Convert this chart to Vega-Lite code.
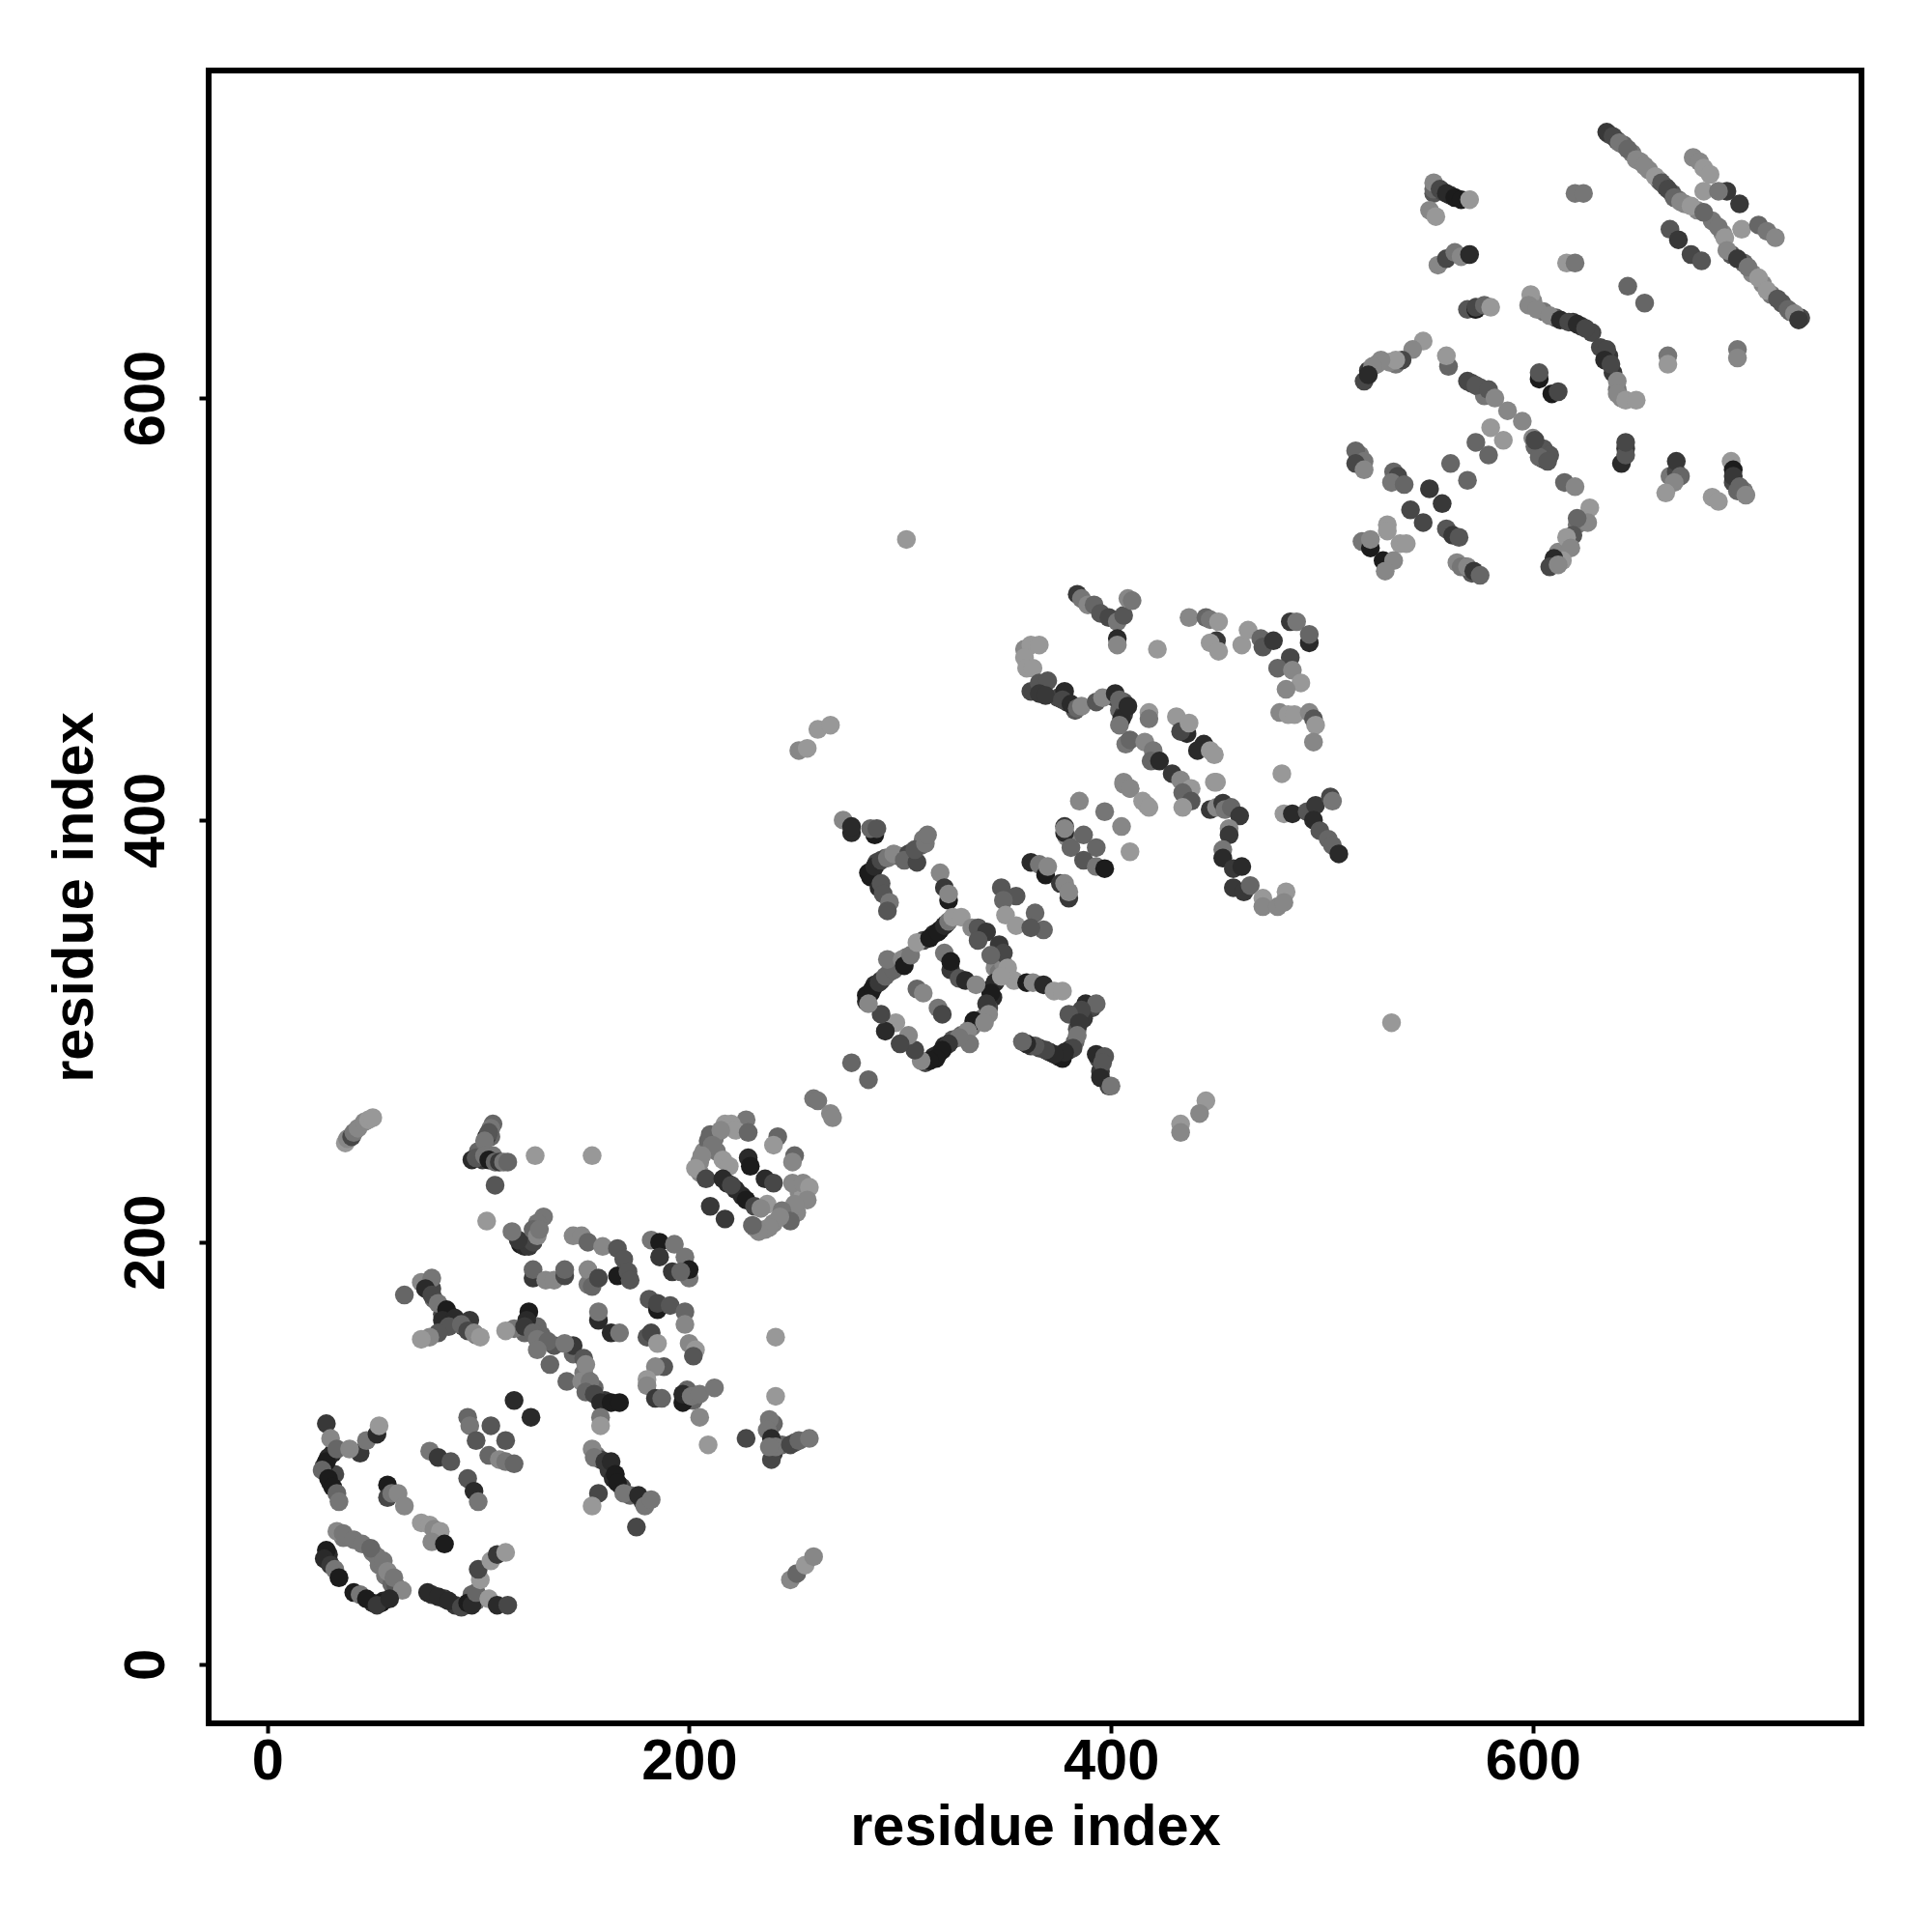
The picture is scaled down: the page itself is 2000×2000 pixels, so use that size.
{"$schema":"https://vega.github.io/schema/vega-lite/v6.json","autosize":{"type":"none"},"padding":{"left":216,"top":73,"right":73,"bottom":216},"width":1711,"height":1711,"background":"white",
"config":{"view":{"stroke":"black","strokeWidth":6,"fill":"white"}},
"data":{"values":[
{"x":636,"y":725,"s":4},{"x":640,"y":722,"s":3},{"x":643,"y":720,"s":5},{"x":647,"y":716,"s":6},{"x":651,"y":712,"s":7},{"x":655,"y":708,"s":7},{"x":660,"y":703,"s":5},{"x":663,"y":700,"s":3},{"x":666,"y":697,"s":4},{"x":669,"y":694,"s":6},{"x":672,"y":692,"s":7},{"x":678,"y":689,"s":7},{"x":685,"y":684,"s":6},{"x":690,"y":678,"s":7},{"x":694,"y":668,"s":4},{"x":700,"y":664,"s":5},{"x":704,"y":659,"s":7},{"x":709,"y":654,"s":7},{"x":713,"y":649,"s":6},{"x":718,"y":645,"s":4},{"x":722,"y":641,"s":5},{"x":727,"y":638,"s":3},
{"x":286,"y":318,"s":0},{"x":288,"y":322,"s":1},{"x":291,"y":324,"s":3},{"x":295,"y":328,"s":5},{"x":299,"y":332,"s":6},{"x":303,"y":335,"s":6},{"x":311,"y":343,"s":3},{"x":316,"y":346,"s":1},{"x":319,"y":348,"s":1},{"x":322,"y":351,"s":3},{"x":343,"y":320,"s":1},{"x":344,"y":316,"s":1},{"x":342,"y":311,"s":3},{"x":339,"y":306,"s":6},{"x":334,"y":302,"s":6},{"x":329,"y":298,"s":5},{"x":325,"y":296,"s":4},{"x":321,"y":293,"s":1},{"x":318,"y":289,"s":0},{"x":316,"y":288,"s":1},{"x":312,"y":285,"s":3},
{"x":391,"y":311,"s":3},{"x":387,"y":306,"s":2},{"x":384,"y":301,"s":4},{"x":383,"y":295,"s":5},{"x":380,"y":291,"s":1},{"x":375,"y":288,"s":1},{"x":371,"y":290,"s":2},{"x":366,"y":292,"s":3},{"x":362,"y":293,"s":2},
{"x":286,"y":373,"s":0},{"x":287,"y":376,"s":1},{"x":289,"y":380,"s":3},{"x":293,"y":382,"s":5},{"x":299,"y":383,"s":5},{"x":306,"y":385,"s":4},{"x":310,"y":388,"s":5},{"x":311,"y":391,"s":6},
{"x":29,"y":52,"s":1},{"x":29,"y":49,"s":1},{"x":36,"y":60,"s":6},{"x":50,"y":53,"s":6},{"x":52,"y":51,"s":6},{"x":53,"y":47,"s":6},{"x":56,"y":42,"s":6},{"x":59,"y":38,"s":5},{"x":61,"y":37,"s":4},{"x":55,"y":30,"s":1},{"x":50,"y":29,"s":1},{"x":78,"y":33,"s":2},{"x":84,"y":31,"s":2},{"x":89,"y":28,"s":2},{"x":94,"y":28,"s":5},{"x":99,"y":30,"s":5},{"x":97,"y":33,"s":5},{"x":27,"y":94,"s":2},{"x":29,"y":98,"s":1},{"x":28,"y":92,"s":2},{"x":30,"y":86,"s":1},{"x":32,"y":90,"s":3},
{"x":205,"y":238,"s":7},{"x":207,"y":243,"s":7},{"x":209,"y":248,"s":5},{"x":205,"y":233,"s":7},{"x":212,"y":249,"s":6},{"x":213,"y":243,"s":6},{"x":217,"y":256,"s":8},{"x":224,"y":255,"s":7},{"x":252,"y":224,"s":7},{"x":254,"y":222,"s":8},{"x":251,"y":214,"s":7},{"x":246,"y":213,"s":6},{"x":240,"y":209,"s":7},{"x":236,"y":206,"s":7},{"x":231,"y":207,"s":6},{"x":225,"y":222,"s":1},{"x":222,"y":225,"s":1},{"x":218,"y":228,"s":1},
{"x":362,"y":461,"s":3},{"x":375,"y":458,"s":3},{"x":379,"y":456,"s":2},{"x":383,"y":452,"s":4},{"x":402,"y":458,"s":3},{"x":406,"y":456,"s":4},{"x":404,"y":452,"s":5},{"x":406,"y":450,"s":2},
{"x":640,"y":604,"s":6},{"x":642,"y":600,"s":7},{"x":638,"y":612,"s":2},{"x":636,"y":620,"s":2},{"x":628,"y":631,"s":3},{"x":623,"y":634,"s":2},{"x":619,"y":636,"s":2},{"x":611,"y":638,"s":4},{"x":605,"y":641,"s":6},{"x":600,"y":646,"s":7},{"x":575,"y":605,"s":4},{"x":577,"y":601,"s":6},{"x":571,"y":607,"s":3},{"x":604,"y":574,"s":4},{"x":601,"y":577,"s":5},{"x":605,"y":571,"s":3},
{"x":553,"y":697,"s":4},{"x":557,"y":698,"s":3},{"x":561,"y":696,"s":2},{"x":553,"y":699,"s":5},{"x":517,"y":571,"s":5},{"x":518,"y":573,"s":6},{"x":535,"y":616,"s":6},{"x":532,"y":617,"s":7},{"x":526,"y":616,"s":7},{"x":522,"y":613,"s":2},
{"x":695,"y":560,"s":3},{"x":697,"y":556,"s":5},{"x":700,"y":556,"s":6},{"x":665,"y":563,"s":6},{"x":668,"y":565,"s":3},{"x":644,"y":576,"s":2},{"x":621,"y":540,"s":6},{"x":617,"y":532,"s":6},{"x":612,"y":527,"s":7},{"x":568,"y":520,"s":3},{"x":564,"y":522,"s":7},{"x":571,"y":517,"s":4},
{"x":378,"y":397,"s":2},{"x":379,"y":392,"s":7},{"x":399,"y":274,"s":3},{"x":395,"y":281,"s":2},{"x":394,"y":287,"s":3},{"x":345,"y":330,"s":7},{"x":347,"y":328,"s":6},{"x":349,"y":332,"s":7},
{"x":156,"y":99,"s":6},{"x":158,"y":97,"s":3},{"x":162,"y":92,"s":2},{"x":164,"y":88,"s":1},{"x":168,"y":84,"s":3},{"x":172,"y":80,"s":5},{"x":178,"y":77,"s":3},{"x":100,"y":243,"s":5},{"x":102,"y":239,"s":2},{"x":107,"y":241,"s":6},{"x":106,"y":250,"s":5},{"x":87,"y":165,"s":1},{"x":90,"y":162,"s":2},{"x":93,"y":160,"s":3},{"x":99,"y":156,"s":6},{"x":83,"y":166,"s":3},{"x":76,"y":180,"s":5},{"x":78,"y":178,"s":3},{"x":79,"y":173,"s":5},
{"x":128,"y":160,"s":5},{"x":130,"y":156,"s":5},{"x":122,"y":157,"s":5},{"x":136,"y":151,"s":4},{"x":145,"y":147,"s":5},{"x":150,"y":138,"s":6},{"x":155,"y":131,"s":5},{"x":160,"y":125,"s":2},{"x":202,"y":125,"s":5},{"x":198,"y":126,"s":2},{"x":199,"y":130,"s":5},{"x":240,"y":100,"s":2},{"x":240,"y":114,"s":5},{"x":244,"y":104,"s":5},{"x":250,"y":105,"s":4},
{"x":37,"y":247,"s":8},{"x":38,"y":249,"s":7},{"x":40,"y":250,"s":3},{"x":41,"y":252,"s":6},{"x":43,"y":254,"s":7},{"x":46,"y":257,"s":7},{"x":48,"y":258,"s":8},{"x":50,"y":259,"s":8},
{"x":104,"y":250,"s":1},{"x":107,"y":256,"s":5},{"x":106,"y":254,"s":6},{"x":105,"y":252,"s":4},{"x":103,"y":248,"s":6},{"x":97,"y":239,"s":1},{"x":99,"y":240,"s":4},{"x":103,"y":241,"s":6},{"x":105,"y":239,"s":0},{"x":108,"y":238,"s":5},{"x":110,"y":238,"s":2},{"x":112,"y":238,"s":6},{"x":114,"y":238,"s":5},{"x":108,"y":227,"s":4},{"x":127,"y":241,"s":8},{"x":154,"y":241,"s":8},{"x":104,"y":210,"s":8},
{"x":120,"y":199,"s":0},{"x":122,"y":198,"s":1},{"x":124,"y":198,"s":2},{"x":126,"y":200,"s":3},{"x":119,"y":201,"s":2},{"x":131,"y":212,"s":6},{"x":128,"y":209,"s":6},{"x":126,"y":206,"s":5},{"x":116,"y":205,"s":6},{"x":128,"y":203,"s":7},{"x":129,"y":206,"s":6},
{"x":126,"y":183,"s":2},{"x":126,"y":187,"s":5},{"x":132,"y":182,"s":7},{"x":136,"y":182,"s":7},{"x":141,"y":184,"s":3},{"x":141,"y":187,"s":5},{"x":152,"y":180,"s":6},{"x":152,"y":187,"s":7},{"x":154,"y":179,"s":5},{"x":157,"y":183,"s":3},
{"x":145,"y":203,"s":7},{"x":149,"y":203,"s":7},{"x":152,"y":200,"s":5},{"x":159,"y":198,"s":7},{"x":166,"y":184,"s":0},{"x":166,"y":197,"s":4},{"x":169,"y":192,"s":4},{"x":171,"y":186,"s":4},{"x":172,"y":182,"s":4},
{"x":182,"y":201,"s":6},{"x":186,"y":200,"s":0},{"x":186,"y":193,"s":2},{"x":193,"y":199,"s":6},{"x":198,"y":193,"s":6},{"x":192,"y":186,"s":2},{"x":200,"y":183,"s":6},{"x":200,"y":187,"s":0},{"x":196,"y":186,"s":5},
{"x":65,"y":175,"s":5},{"x":73,"y":181,"s":7},{"x":78,"y":183,"s":6},{"x":75,"y":178,"s":1},{"x":78,"y":175,"s":3},{"x":81,"y":171,"s":6},{"x":85,"y":168,"s":0},{"x":83,"y":163,"s":1},{"x":89,"y":164,"s":1},{"x":86,"y":160,"s":4},{"x":96,"y":163,"s":2},{"x":92,"y":161,"s":5},{"x":95,"y":158,"s":3},{"x":98,"y":157,"s":7},{"x":101,"y":155,"s":8},{"x":81,"y":157,"s":4},{"x":77,"y":155,"s":7},{"x":73,"y":154,"s":8},
{"x":124,"y":167,"s":0},{"x":123,"y":163,"s":1},{"x":117,"y":159,"s":6},{"x":113,"y":158,"s":8},{"x":122,"y":160,"s":2},{"x":126,"y":157,"s":5},{"x":128,"y":154,"s":6},{"x":133,"y":153,"s":5},{"x":128,"y":149,"s":6},{"x":145,"y":151,"s":2},{"x":141,"y":152,"s":6},{"x":134,"y":142,"s":5},{"x":150,"y":145,"s":4},{"x":151,"y":142,"s":7},{"x":142,"y":134,"s":5},{"x":149,"y":134,"s":7},{"x":153,"y":134,"s":6},{"x":151,"y":129,"s":5},{"x":155,"y":128,"s":3},{"x":158,"y":124,"s":1},{"x":163,"y":124,"s":0},{"x":167,"y":124,"s":0},{"x":158,"y":117,"s":6},{"x":158,"y":113,"s":8},{"x":157,"y":163,"s":1},{"x":157,"y":167,"s":6},{"x":163,"y":157,"s":1},{"x":167,"y":157,"s":6},
{"x":181,"y":173,"s":4},{"x":185,"y":168,"s":0},{"x":185,"y":171,"s":3},{"x":191,"y":170,"s":4},{"x":198,"y":167,"s":5},{"x":198,"y":161,"s":7},{"x":180,"y":155,"s":4},{"x":182,"y":157,"s":3},{"x":185,"y":152,"s":8},{"x":200,"y":152,"s":7},{"x":203,"y":149,"s":8},{"x":202,"y":146,"s":4},{"x":188,"y":141,"s":4},{"x":184,"y":141,"s":7},{"x":180,"y":135,"s":8},{"x":180,"y":132,"s":7},{"x":184,"y":126,"s":2},{"x":187,"y":126,"s":5},{"x":197,"y":124,"s":0},{"x":197,"y":128,"s":1},{"x":201,"y":127,"s":6},{"x":205,"y":128,"s":6},{"x":212,"y":131,"s":6},{"x":205,"y":117,"s":7},{"x":209,"y":104,"s":8},{"x":241,"y":155,"s":8},{"x":241,"y":127,"s":8},
{"x":238,"y":116,"s":6},{"x":237,"y":111,"s":6},{"x":239,"y":107,"s":1},{"x":227,"y":107,"s":3},{"x":239,"y":97,"s":3},{"x":241,"y":103,"s":6},{"x":248,"y":104,"s":3},{"x":252,"y":106,"s":5},{"x":257,"y":107,"s":6},{"x":238,"y":103,"s":6},
{"x":154,"y":102,"s":7},{"x":155,"y":98,"s":6},{"x":160,"y":96,"s":2},{"x":163,"y":96,"s":1},{"x":165,"y":90,"s":0},{"x":166,"y":86,"s":0},{"x":157,"y":81,"s":3},{"x":154,"y":75,"s":8},{"x":169,"y":81,"s":6},{"x":176,"y":80,"s":1},{"x":179,"y":75,"s":6},{"x":182,"y":78,"s":6},{"x":175,"y":65,"s":3},
{"x":31,"y":100,"s":1},{"x":28,"y":96,"s":0},{"x":26,"y":92,"s":5},{"x":29,"y":88,"s":0},{"x":31,"y":84,"s":0},{"x":33,"y":81,"s":5},{"x":34,"y":77,"s":6},{"x":28,"y":114,"s":2},{"x":30,"y":107,"s":7},{"x":33,"y":102,"s":5},{"x":44,"y":100,"s":2},{"x":39,"y":102,"s":7},{"x":47,"y":106,"s":6},{"x":52,"y":109,"s":1},{"x":53,"y":113,"s":8},
{"x":57,"y":85,"s":0},{"x":57,"y":79,"s":3},{"x":59,"y":81,"s":6},{"x":62,"y":81,"s":7},{"x":65,"y":75,"s":7},
{"x":77,"y":101,"s":6},{"x":81,"y":98,"s":2},{"x":87,"y":96,"s":4},{"x":95,"y":88,"s":4},{"x":98,"y":82,"s":1},{"x":100,"y":77,"s":6},
{"x":73,"y":67,"s":8},{"x":77,"y":66,"s":8},{"x":79,"y":64,"s":7},{"x":82,"y":63,"s":8},{"x":78,"y":58,"s":7},{"x":84,"y":57,"s":0},
{"x":95,"y":117,"s":5},{"x":96,"y":113,"s":6},{"x":99,"y":106,"s":4},{"x":106,"y":113,"s":4},{"x":113,"y":106,"s":4},{"x":105,"y":99,"s":5},{"x":110,"y":97,"s":7},{"x":113,"y":96,"s":6},{"x":117,"y":95,"s":5},{"x":117,"y":125,"s":1},{"x":125,"y":117,"s":1},
{"x":28,"y":54,"s":0},{"x":27,"y":50,"s":1},{"x":30,"y":47,"s":2},{"x":32,"y":45,"s":6},{"x":34,"y":41,"s":0},{"x":33,"y":63,"s":7},{"x":36,"y":62,"s":6},{"x":41,"y":59,"s":6},{"x":45,"y":57,"s":6},{"x":49,"y":55,"s":5},{"x":55,"y":49,"s":6},{"x":57,"y":44,"s":7},{"x":60,"y":41,"s":6},{"x":64,"y":35,"s":7},{"x":41,"y":34,"s":0},{"x":44,"y":33,"s":6},{"x":47,"y":31,"s":0},{"x":54,"y":29,"s":0},{"x":52,"y":28,"s":2},{"x":58,"y":31,"s":1},
{"x":76,"y":34,"s":1},{"x":81,"y":32,"s":1},{"x":86,"y":30,"s":1},{"x":92,"y":27,"s":3},{"x":95,"y":29,"s":0},{"x":97,"y":28,"s":1},{"x":99,"y":34,"s":5},{"x":101,"y":40,"s":8},{"x":100,"y":45,"s":3},{"x":106,"y":49,"s":8},{"x":109,"y":52,"s":2},{"x":113,"y":53,"s":8},{"x":105,"y":31,"s":8},{"x":109,"y":28,"s":1},{"x":114,"y":28,"s":3},
{"x":248,"y":40,"s":7},{"x":251,"y":43,"s":5},{"x":255,"y":47,"s":8},{"x":259,"y":51,"s":7},
{"x":227,"y":258,"s":6},{"x":220,"y":256,"s":8},{"x":222,"y":253,"s":8},{"x":228,"y":252,"s":5},{"x":210,"y":251,"s":5},{"x":215,"y":253,"s":7},{"x":211,"y":246,"s":6},{"x":206,"y":241,"s":7},{"x":203,"y":235,"s":8},{"x":208,"y":230,"s":3},{"x":216,"y":239,"s":8},{"x":219,"y":236,"s":8},{"x":228,"y":240,"s":1},{"x":229,"y":236,"s":0},{"x":216,"y":230,"s":1},{"x":220,"y":227,"s":3},{"x":236,"y":230,"s":1},{"x":240,"y":228,"s":3},{"x":242,"y":250,"s":5},{"x":240,"y":246,"s":8},{"x":250,"y":241,"s":5},{"x":249,"y":238,"s":7},{"x":227,"y":220,"s":0},{"x":231,"y":217,"s":3},{"x":210,"y":217,"s":2},{"x":217,"y":211,"s":2},{"x":237,"y":218,"s":8},{"x":234,"y":216,"s":7},{"x":249,"y":228,"s":7},{"x":254,"y":228,"s":7},{"x":257,"y":226,"s":8},{"x":256,"y":220,"s":7},{"x":250,"y":218,"s":7},{"x":244,"y":215,"s":6},{"x":248,"y":210,"s":5},{"x":243,"y":212,"s":7},{"x":238,"y":207,"s":7},{"x":233,"y":205,"s":7},{"x":230,"y":208,"s":5},
{"x":277,"y":285,"s":5},{"x":285,"y":277,"s":5},{"x":259,"y":268,"s":6},{"x":261,"y":267,"s":6},{"x":267,"y":261,"s":7},{"x":268,"y":259,"s":7},{"x":445,"y":267,"s":8},{"x":442,"y":261,"s":7},{"x":433,"y":256,"s":8},{"x":433,"y":252,"s":7},{"x":303,"y":533,"s":8},{"x":533,"y":304,"s":8},{"x":252,"y":433,"s":7},{"x":256,"y":434,"s":8},{"x":261,"y":443,"s":8},{"x":267,"y":445,"s":8},
{"x":273,"y":400,"s":7},{"x":277,"y":394,"s":1},{"x":277,"y":397,"s":1},{"x":288,"y":393,"s":0},{"x":286,"y":396,"s":5},{"x":289,"y":396,"s":4},
{"x":285,"y":375,"s":0},{"x":288,"y":378,"s":1},{"x":291,"y":381,"s":3},{"x":294,"y":382,"s":6},{"x":297,"y":384,"s":7},{"x":304,"y":384,"s":3},{"x":302,"y":381,"s":5},{"x":308,"y":380,"s":3},{"x":307,"y":386,"s":4},{"x":312,"y":389,"s":6},{"x":313,"y":393,"s":6},{"x":290,"y":368,"s":1},{"x":291,"y":370,"s":4},{"x":292,"y":365,"s":4},{"x":295,"y":361,"s":6},{"x":294,"y":357,"s":4},
{"x":319,"y":375,"s":7},{"x":321,"y":368,"s":2},{"x":323,"y":362,"s":0},{"x":323,"y":365,"s":7},
{"x":284,"y":314,"s":1},{"x":284,"y":317,"s":0},{"x":287,"y":320,"s":0},{"x":290,"y":323,"s":2},{"x":293,"y":326,"s":5},{"x":297,"y":329,"s":5},{"x":294,"y":334,"s":6},{"x":301,"y":334,"s":7},{"x":302,"y":331,"s":0},{"x":305,"y":336,"s":6},{"x":308,"y":342,"s":8},{"x":314,"y":344,"s":0},{"x":318,"y":347,"s":0},{"x":321,"y":350,"s":1},{"x":323,"y":352,"s":6},{"x":325,"y":354,"s":8},{"x":329,"y":354,"s":8},{"x":334,"y":349,"s":7},{"x":337,"y":349,"s":4},{"x":341,"y":347,"s":2},{"x":337,"y":343,"s":4},{"x":347,"y":341,"s":2},{"x":349,"y":337,"s":3},{"x":343,"y":336,"s":5},{"x":351,"y":330,"s":8},{"x":354,"y":324,"s":8},{"x":345,"y":323,"s":1},{"x":348,"y":326,"s":8},{"x":343,"y":318,"s":0},{"x":341,"y":313,"s":2},{"x":342,"y":308,"s":7},{"x":335,"y":305,"s":0},{"x":340,"y":304,"s":7},{"x":332,"y":300,"s":7},{"x":333,"y":294,"s":6},{"x":328,"y":297,"s":6},{"x":323,"y":294,"s":2},{"x":320,"y":291,"s":0},{"x":317,"y":287,"s":0},{"x":314,"y":286,"s":0},{"x":310,"y":286,"s":7},{"x":307,"y":291,"s":3},{"x":304,"y":298,"s":7},{"x":300,"y":294,"s":3},{"x":298,"y":304,"s":8},{"x":293,"y":300,"s":1},{"x":291,"y":308,"s":3},{"x":285,"y":313,"s":7},
{"x":321,"y":337,"s":6},{"x":324,"y":329,"s":2},{"x":324,"y":333,"s":0},{"x":328,"y":325,"s":4},{"x":331,"y":324,"s":1},{"x":336,"y":322,"s":7},{"x":308,"y":320,"s":5},{"x":311,"y":318,"s":7},{"x":318,"y":311,"s":6},{"x":320,"y":308,"s":3},
{"x":360,"y":323,"s":0},{"x":363,"y":323,"s":7},{"x":368,"y":322,"s":1},{"x":373,"y":319,"s":8},{"x":377,"y":319,"s":8},
{"x":388,"y":313,"s":1},{"x":393,"y":313,"s":5},{"x":386,"y":310,"s":3},{"x":380,"y":308,"s":4},{"x":385,"y":304,"s":2},{"x":384,"y":298,"s":6},{"x":382,"y":292,"s":3},{"x":377,"y":287,"s":0},{"x":378,"y":290,"s":1},{"x":373,"y":289,"s":1},{"x":369,"y":291,"s":3},{"x":364,"y":293,"s":4},{"x":360,"y":294,"s":1},{"x":358,"y":295,"s":5},
{"x":393,"y":289,"s":1},{"x":397,"y":288,"s":4},{"x":396,"y":285,"s":4},{"x":395,"y":278,"s":1},{"x":400,"y":274,"s":6},
{"x":348,"y":368,"s":4},{"x":355,"y":364,"s":4},{"x":349,"y":362,"s":5},{"x":350,"y":355,"s":8},{"x":364,"y":356,"s":5},{"x":368,"y":348,"s":5},{"x":355,"y":350,"s":8},{"x":362,"y":349,"s":4},
{"x":362,"y":380,"s":1},{"x":366,"y":379,"s":6},{"x":369,"y":374,"s":0},{"x":370,"y":378,"s":7},{"x":376,"y":370,"s":2},{"x":378,"y":370,"s":7},{"x":380,"y":363,"s":2},{"x":380,"y":366,"s":7},
{"x":378,"y":394,"s":1},{"x":378,"y":396,"s":7},{"x":387,"y":393,"s":5},{"x":381,"y":387,"s":5},{"x":393,"y":387,"s":5},{"x":387,"y":381,"s":4},{"x":393,"y":378,"s":6},{"x":397,"y":377,"s":0},
{"x":385,"y":409,"s":7},{"x":397,"y":404,"s":6},{"x":405,"y":397,"s":7},{"x":409,"y":385,"s":8},{"x":406,"y":417,"s":7},{"x":409,"y":415,"s":7},{"x":417,"y":407,"s":8},{"x":449,"y":418,"s":8},
{"x":384,"y":507,"s":2},{"x":386,"y":505,"s":6},{"x":389,"y":502,"s":7},{"x":392,"y":502,"s":5},{"x":395,"y":498,"s":4},{"x":399,"y":496,"s":3},{"x":403,"y":494,"s":6},{"x":406,"y":497,"s":4},{"x":408,"y":505,"s":7},{"x":410,"y":504,"s":6},{"x":403,"y":486,"s":1},{"x":403,"y":483,"s":7},{"x":422,"y":481,"s":8},
{"x":437,"y":496,"s":7},{"x":445,"y":496,"s":5},{"x":447,"y":495,"s":6},{"x":451,"y":494,"s":8},{"x":450,"y":485,"s":2},{"x":447,"y":484,"s":8},{"x":451,"y":480,"s":8},
{"x":462,"y":483,"s":8},{"x":465,"y":490,"s":8},{"x":471,"y":486,"s":5},{"x":472,"y":482,"s":4},{"x":477,"y":485,"s":2},{"x":485,"y":494,"s":2},{"x":488,"y":494,"s":6},{"x":494,"y":484,"s":1},{"x":494,"y":488,"s":5},
{"x":485,"y":477,"s":3},{"x":479,"y":472,"s":5},{"x":486,"y":471,"s":7},{"x":490,"y":465,"s":8},{"x":483,"y":462,"s":7},
{"x":480,"y":451,"s":7},{"x":484,"y":450,"s":8},{"x":487,"y":450,"s":8},{"x":494,"y":451,"s":7},{"x":496,"y":448,"s":4},{"x":497,"y":445,"s":8},{"x":496,"y":437,"s":7},{"x":481,"y":422,"s":8},
{"x":359,"y":481,"s":7},{"x":362,"y":483,"s":8},{"x":366,"y":483,"s":9},{"x":359,"y":477,"s":8},{"x":360,"y":472,"s":8},{"x":363,"y":472,"s":8},
{"x":366,"y":465,"s":4},{"x":370,"y":466,"s":4},{"x":366,"y":460,"s":2},{"x":369,"y":459,"s":2},{"x":378,"y":461,"s":1},{"x":377,"y":457,"s":3},{"x":381,"y":455,"s":1},{"x":384,"y":453,"s":5},{"x":386,"y":454,"s":7},{"x":393,"y":456,"s":4},{"x":396,"y":458,"s":7},{"x":402,"y":460,"s":1},{"x":404,"y":457,"s":5},{"x":405,"y":448,"s":1},{"x":404,"y":445,"s":6},{"x":408,"y":454,"s":1},
{"x":418,"y":451,"s":8},{"x":418,"y":448,"s":6},{"x":431,"y":449,"s":8},{"x":436,"y":441,"s":1},{"x":433,"y":442,"s":3},{"x":437,"y":446,"s":8},{"x":444,"y":436,"s":1},{"x":441,"y":433,"s":1},{"x":447,"y":433,"s":8},{"x":449,"y":431,"s":8},
{"x":407,"y":436,"s":6},{"x":409,"y":438,"s":5},{"x":416,"y":437,"s":7},{"x":420,"y":433,"s":6},{"x":419,"y":428,"s":5},{"x":423,"y":428,"s":1},{"x":429,"y":422,"s":2},{"x":433,"y":419,"s":7},{"x":438,"y":415,"s":8},{"x":434,"y":413,"s":5},{"x":438,"y":409,"s":4},{"x":434,"y":406,"s":8},{"x":406,"y":418,"s":7},{"x":409,"y":415,"s":7},{"x":415,"y":409,"s":8},{"x":418,"y":406,"s":8},{"x":450,"y":418,"s":8},
{"x":447,"y":405,"s":2},{"x":450,"y":406,"s":7},{"x":453,"y":408,"s":2},{"x":454,"y":405,"s":6},{"x":457,"y":406,"s":5},{"x":461,"y":402,"s":2},{"x":456,"y":396,"s":7},{"x":456,"y":393,"s":2},{"x":453,"y":386,"s":6},{"x":453,"y":382,"s":1},{"x":458,"y":377,"s":2},{"x":462,"y":378,"s":1},{"x":458,"y":368,"s":2},{"x":463,"y":366,"s":2},{"x":466,"y":369,"s":5},{"x":472,"y":363,"s":8},{"x":472,"y":359,"s":7},{"x":479,"y":359,"s":7},{"x":483,"y":366,"s":8},{"x":482,"y":361,"s":7},
{"x":482,"y":403,"s":8},{"x":486,"y":403,"s":1},{"x":493,"y":404,"s":4},{"x":497,"y":407,"s":2},{"x":504,"y":411,"s":3},{"x":505,"y":409,"s":6},{"x":496,"y":400,"s":1},{"x":499,"y":395,"s":4},{"x":503,"y":391,"s":5},{"x":505,"y":388,"s":5},{"x":508,"y":384,"s":1},
{"x":635,"y":726,"s":2},{"x":638,"y":724,"s":3},{"x":641,"y":721,"s":6},{"x":645,"y":718,"s":5},{"x":649,"y":713,"s":7},{"x":653,"y":710,"s":7},{"x":658,"y":705,"s":8},{"x":661,"y":702,"s":4},{"x":664,"y":699,"s":3},{"x":667,"y":695,"s":5},{"x":670,"y":693,"s":7},{"x":675,"y":691,"s":8},{"x":681,"y":688,"s":5},{"x":688,"y":681,"s":6},{"x":691,"y":676,"s":8},{"x":692,"y":670,"s":7},{"x":697,"y":666,"s":2},{"x":702,"y":662,"s":6},{"x":707,"y":657,"s":8},{"x":711,"y":651,"s":8},{"x":716,"y":647,"s":4},{"x":721,"y":642,"s":5},{"x":724,"y":640,"s":7},{"x":726,"y":637,"s":2},
{"x":676,"y":714,"s":7},{"x":679,"y":712,"s":7},{"x":681,"y":709,"s":8},{"x":684,"y":706,"s":8},{"x":681,"y":698,"s":8},{"x":692,"y":698,"s":2},{"x":688,"y":698,"s":6},{"x":698,"y":692,"s":2},{"x":699,"y":680,"s":8},{"x":707,"y":682,"s":5},{"x":711,"y":679,"s":6},{"x":715,"y":676,"s":7},
{"x":665,"y":680,"s":4},{"x":669,"y":675,"s":2},{"x":675,"y":668,"s":3},{"x":680,"y":665,"s":4},{"x":697,"y":623,"s":6},{"x":697,"y":619,"s":7},{"x":664,"y":620,"s":6},{"x":664,"y":616,"s":8},{"x":645,"y":653,"s":5},{"x":653,"y":645,"s":5},{"x":620,"y":697,"s":6},{"x":624,"y":697,"s":6},{"x":616,"y":664,"s":8},{"x":620,"y":664,"s":6},
{"x":553,"y":702,"s":7},{"x":556,"y":699,"s":3},{"x":559,"y":697,"s":1},{"x":563,"y":695,"s":0},{"x":566,"y":694,"s":0},{"x":570,"y":694,"s":8},{"x":551,"y":689,"s":7},{"x":554,"y":686,"s":8},
{"x":555,"y":663,"s":7},{"x":559,"y":666,"s":3},{"x":563,"y":669,"s":6},{"x":566,"y":667,"s":7},{"x":570,"y":668,"s":1},
{"x":569,"y":642,"s":4},{"x":573,"y":642,"s":0},{"x":573,"y":643,"s":3},{"x":577,"y":644,"s":5},{"x":580,"y":643,"s":8},
{"x":599,"y":649,"s":8},{"x":598,"y":644,"s":7},{"x":602,"y":642,"s":7},{"x":608,"y":639,"s":7},{"x":613,"y":637,"s":1},{"x":617,"y":636,"s":3},{"x":621,"y":635,"s":1},{"x":625,"y":633,"s":3},
{"x":632,"y":624,"s":3},{"x":635,"y":623,"s":3},{"x":634,"y":618,"s":1},{"x":637,"y":616,"s":3},{"x":640,"y":608,"s":7},{"x":640,"y":602,"s":7},{"x":644,"y":599,"s":8},{"x":649,"y":599,"s":8},
{"x":548,"y":627,"s":8},{"x":543,"y":623,"s":7},{"x":538,"y":618,"s":3},{"x":535,"y":618,"s":8},{"x":528,"y":618,"s":7},{"x":524,"y":615,"s":7},{"x":520,"y":608,"s":3},{"x":522,"y":611,"s":1},
{"x":560,"y":615,"s":5},{"x":559,"y":620,"s":8},
{"x":603,"y":609,"s":0},{"x":603,"y":612,"s":4},{"x":609,"y":602,"s":0},{"x":612,"y":603,"s":3},
{"x":569,"y":608,"s":3},{"x":573,"y":606,"s":4},{"x":579,"y":604,"s":4},{"x":582,"y":600,"s":7},{"x":588,"y":594,"s":7},{"x":595,"y":589,"s":7},{"x":600,"y":581,"s":7},{"x":605,"y":576,"s":4},{"x":608,"y":573,"s":4},{"x":603,"y":572,"s":5},{"x":607,"y":570,"s":4},{"x":601,"y":580,"s":3},
{"x":580,"y":586,"s":8},{"x":586,"y":580,"s":8},{"x":573,"y":579,"s":5},{"x":579,"y":573,"s":5},{"x":561,"y":569,"s":5},{"x":569,"y":561,"s":5},{"x":615,"y":560,"s":5},{"x":620,"y":558,"s":7},
{"x":642,"y":569,"s":1},{"x":644,"y":573,"s":4},{"x":644,"y":579,"s":3},{"x":668,"y":570,"s":2},{"x":670,"y":563,"s":5},{"x":667,"y":560,"s":7},{"x":663,"y":555,"s":8},
{"x":694,"y":570,"s":8},{"x":695,"y":566,"s":0},{"x":695,"y":563,"s":2},{"x":698,"y":558,"s":5},{"x":701,"y":554,"s":7},{"x":685,"y":553,"s":8},{"x":688,"y":551,"s":8},
{"x":627,"y":548,"s":8},{"x":626,"y":541,"s":7},{"x":621,"y":543,"s":5},{"x":619,"y":535,"s":4},{"x":616,"y":534,"s":8},{"x":618,"y":529,"s":7},{"x":614,"y":523,"s":8},{"x":610,"y":524,"s":1},{"x":608,"y":520,"s":3},{"x":612,"y":521,"s":7},
{"x":516,"y":575,"s":5},{"x":520,"y":570,"s":6},{"x":516,"y":569,"s":3},{"x":520,"y":566,"s":7},
{"x":534,"y":565,"s":5},{"x":536,"y":563,"s":3},{"x":533,"y":560,"s":6},{"x":539,"y":559,"s":5},
{"x":551,"y":557,"s":2},{"x":557,"y":550,"s":2},{"x":542,"y":547,"s":3},{"x":548,"y":541,"s":3},
{"x":559,"y":538,"s":4},{"x":562,"y":535,"s":2},{"x":565,"y":534,"s":4},{"x":531,"y":540,"s":8},{"x":531,"y":537,"s":8},{"x":519,"y":532,"s":6},{"x":523,"y":529,"s":0},{"x":523,"y":533,"s":7},{"x":537,"y":531,"s":8},{"x":540,"y":531,"s":8},
{"x":529,"y":523,"s":0},{"x":534,"y":523,"s":7},{"x":530,"y":518,"s":7},{"x":566,"y":520,"s":6},{"x":569,"y":520,"s":7},{"x":572,"y":518,"s":2},{"x":575,"y":516,"s":5}
]},
"mark":{"type":"circle","size":380,"opacity":1},
"encoding":{
"x":{"field":"x","type":"quantitative","scale":{"domain":[-27.8,755.8],"nice":false,"zero":false},"axis":{"values":[0,200,400,600],"title":"residue index","grid":false,"domain":false,"ticks":true,"tickSize":10,"tickWidth":4,"tickColor":"black","labelFont":"Liberation Sans","labelFontWeight":"bold","labelFontSize":59.5,"labelColor":"black","labelPadding":0,"titleFont":"Liberation Sans","titleFontWeight":"bold","titleFontSize":59.5,"titleColor":"black","titlePadding":10,"labelFlush":false,"labelOverlap":false}},
"y":{"field":"y","type":"quantitative","scale":{"domain":[-28,755.2],"nice":false,"zero":false},"axis":{"values":[0,200,400,600],"title":"residue index","grid":false,"domain":false,"ticks":true,"tickSize":10,"tickWidth":4,"tickColor":"black","labelAngle":-90,"labelAlign":"center","labelBaseline":"bottom","labelFont":"Liberation Sans","labelFontWeight":"bold","labelFontSize":59.5,"labelColor":"black","labelPadding":25,"titleFont":"Liberation Sans","titleFontWeight":"bold","titleFontSize":59.5,"titleColor":"black","titlePadding":14,"labelFlush":false,"labelOverlap":false}},
"color":{"field":"s","type":"quantitative","legend":null,"scale":{"domain":[0,8],"clamp":true,"range":["#1c1c1c","#989898"]}}
}}
